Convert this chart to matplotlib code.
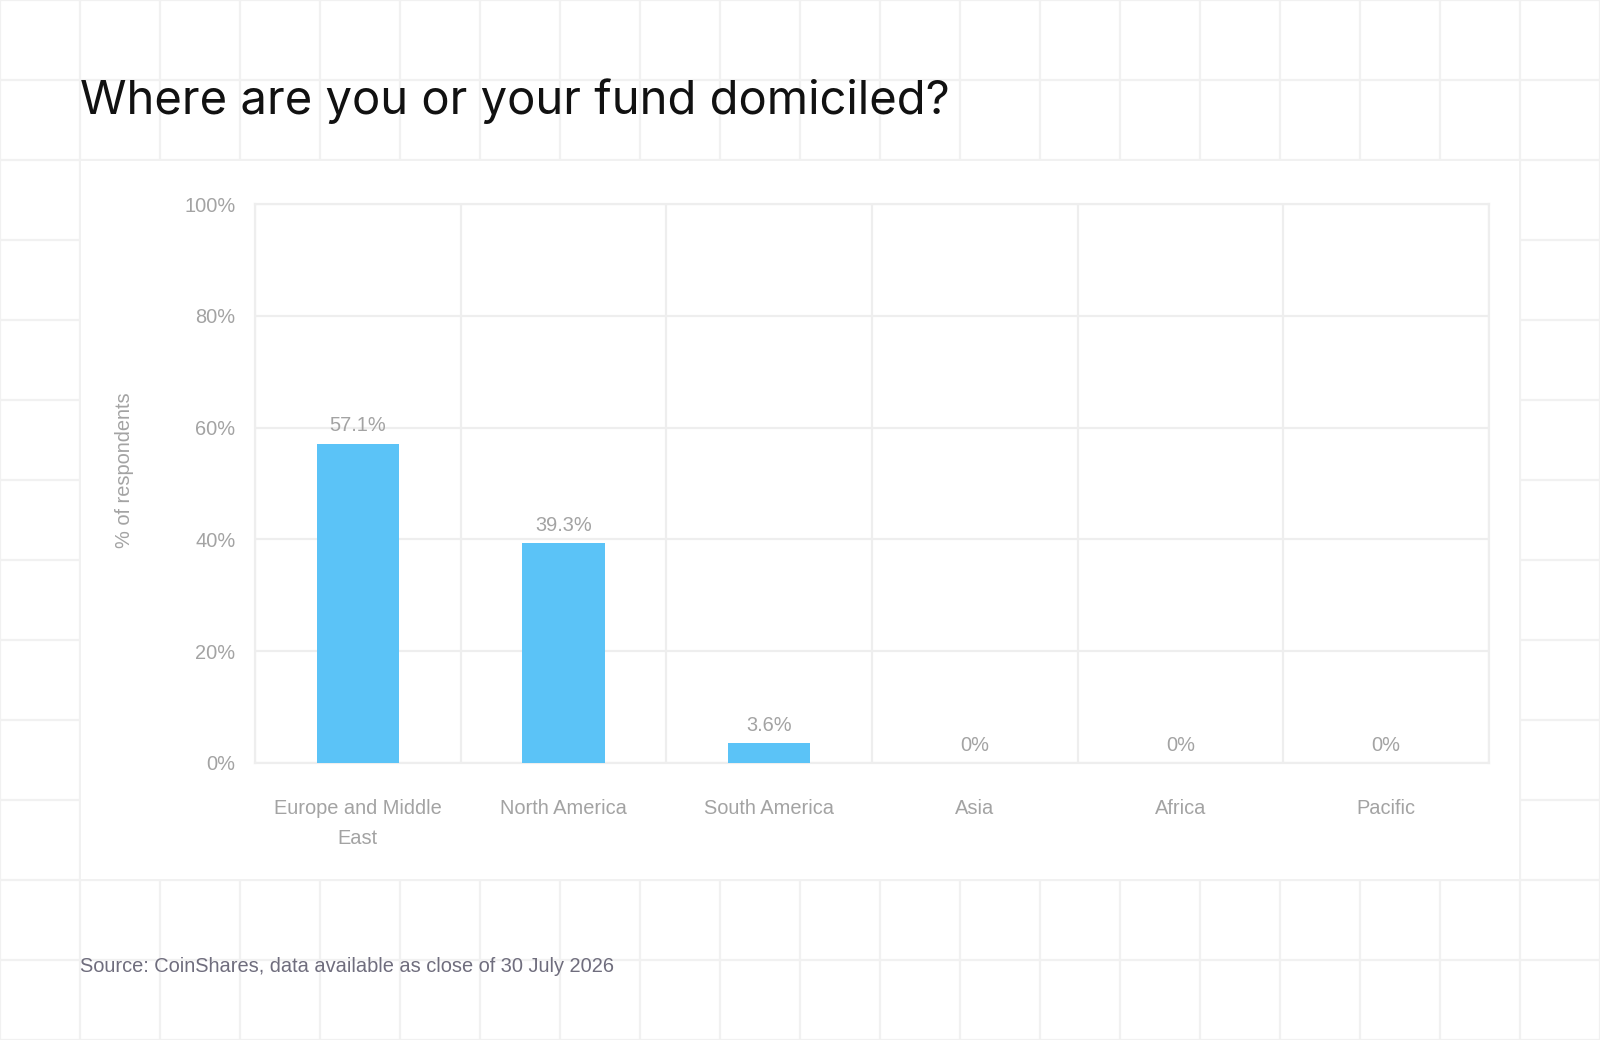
import matplotlib.pyplot as plt
from matplotlib.patches import Rectangle

# data
regions = ["Europe and Middle\nEast", "North America", "South America", "Asia", "Africa", "Pacific"]
pct = [57.1, 39.3, 3.6, 0, 0, 0]
pct_labels = ["57.1%", "39.3%", "3.6%", "0%", "0%", "0%"]
y_ticks = [0, 20, 40, 60, 80, 100]

title = "Where are you or your fund domiciled?"
source = "Source: CoinShares, data available as close of 30 July 2026"

plt.rcParams['font.family'] = ['Liberation Sans', 'DejaVu Sans']

W, H = 1600, 1040
fig = plt.figure(figsize=(16, 10.4), dpi=100)
fig.patch.set_facecolor('white')

# background grid of 80px squares, white panel on top
bg = fig.add_axes([0, 0, 1, 1])
bg.set_xlim(0, W)
bg.set_ylim(H, 0)
bg.axis('off')
for gx in range(0, W + 1, 80):
    bg.axvline(gx, color='#f1f1f1', lw=1.6, zorder=0)
for gy in range(0, H + 1, 80):
    bg.axhline(gy, color='#f1f1f1', lw=1.6, zorder=0)
bg.add_patch(Rectangle((81, 161), 1438, 718, facecolor='white', edgecolor='none', zorder=1))

bg.text(80, 114, title, fontsize=34, color='#111111', family=['Inter', 'DejaVu Sans'],
        va='baseline', ha='left', zorder=2)
bg.text(80, 966, source, fontsize=14.4, color='#6f6d7d', va='center', ha='left', zorder=2)

# main chart
ax = fig.add_axes([255 / W, 1 - 763 / H, (1489 - 255) / W, (763 - 204) / H])
ax.set_facecolor('none')
x = list(range(len(regions)))
bars = ax.bar(x, pct, width=0.4, color='#5bc3f7', zorder=3)
for xi, v, lab in zip(x, pct, pct_labels):
    ax.annotate(lab, (xi, v), xytext=(0, 6), textcoords='offset points',
                ha='center', va='bottom', fontsize=14.4, color='#a3a3a3')

ax.set_xlim(-0.5, len(regions) - 0.5)
ax.set_ylim(0, 100)
ax.set_yticks(y_ticks)
ax.set_yticklabels([f"{t}%" for t in y_ticks])
ax.set_xticks(x)
ax.set_xticklabels(regions)
ax.set_xticks([i - 0.5 for i in range(len(regions) + 1)], minor=True)

ax.grid(axis='y', which='major', color='#eeeeee', lw=1.6, zorder=0)
ax.grid(axis='x', which='minor', color='#eeeeee', lw=1.6, zorder=0)
ax.grid(axis='x', which='major', visible=False)
ax.tick_params(axis='both', which='both', length=0)
ax.tick_params(axis='y', labelsize=14.4, labelcolor='#a3a3a3', pad=14)
ax.tick_params(axis='x', labelsize=14.4, labelcolor='#a3a3a3', pad=26)
for t in ax.get_xticklabels():
    t.set_linespacing(1.75)
for s in ax.spines.values():
    s.set_color('#eeeeee')
    s.set_linewidth(1.6)

ax.set_ylabel("% of respondents", fontsize=14.4, color='#a3a3a3')
ax.yaxis.set_label_coords(-0.098, 0.524)

fig.savefig("out.png", dpi=100, facecolor='white')
